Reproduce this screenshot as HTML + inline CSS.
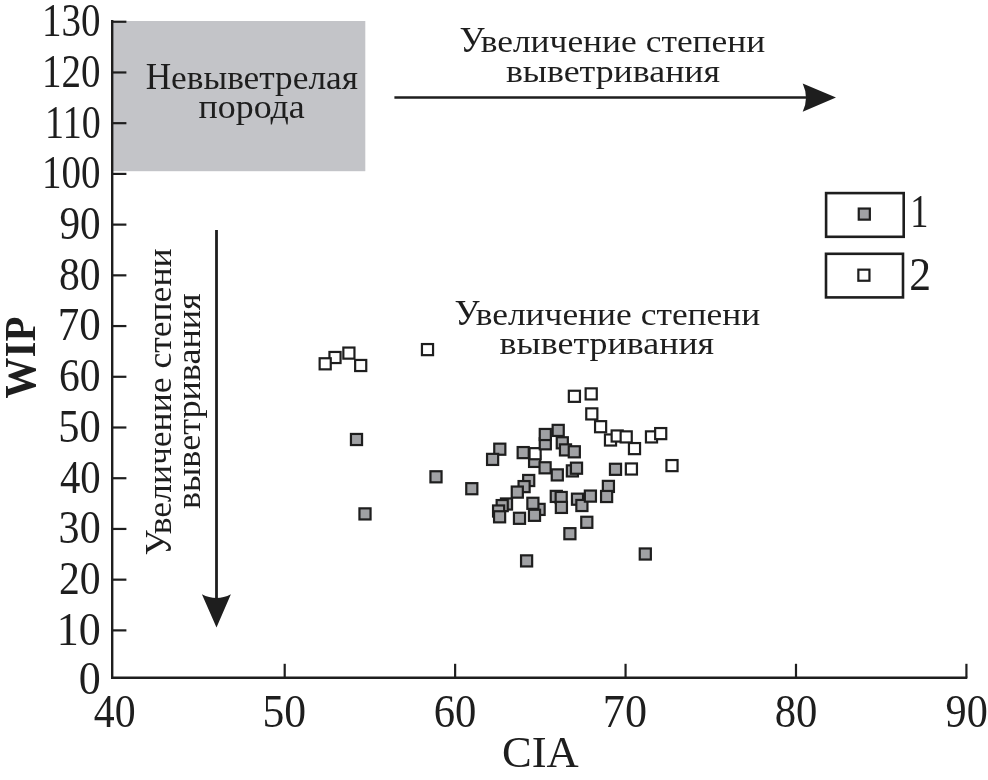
<!DOCTYPE html>
<html><head><meta charset="utf-8"><style>
html,body{margin:0;padding:0;background:#fff;width:988px;height:780px;overflow:hidden}
svg{display:block;will-change:transform}
text{font-family:"Liberation Serif",serif;fill:#1e1e1e}
</style></head><body>
<svg width="988" height="780" viewBox="0 0 988 780">
<rect x="113" y="21" width="252.3" height="150.2" fill="#c3c4c8"/>
<path d="M112.2,20 V677.8 H967.3" fill="none" stroke="#1e1e1e" stroke-width="2.4" stroke-linejoin="miter"/>
<line x1="112.2" y1="630.38" x2="126.4" y2="630.38" stroke="#1e1e1e" stroke-width="2.2"/>
<line x1="112.2" y1="579.66" x2="126.4" y2="579.66" stroke="#1e1e1e" stroke-width="2.2"/>
<line x1="112.2" y1="528.94" x2="126.4" y2="528.94" stroke="#1e1e1e" stroke-width="2.2"/>
<line x1="112.2" y1="478.22" x2="126.4" y2="478.22" stroke="#1e1e1e" stroke-width="2.2"/>
<line x1="112.2" y1="427.50" x2="126.4" y2="427.50" stroke="#1e1e1e" stroke-width="2.2"/>
<line x1="112.2" y1="376.78" x2="126.4" y2="376.78" stroke="#1e1e1e" stroke-width="2.2"/>
<line x1="112.2" y1="326.06" x2="126.4" y2="326.06" stroke="#1e1e1e" stroke-width="2.2"/>
<line x1="112.2" y1="275.34" x2="126.4" y2="275.34" stroke="#1e1e1e" stroke-width="2.2"/>
<line x1="112.2" y1="224.62" x2="126.4" y2="224.62" stroke="#1e1e1e" stroke-width="2.2"/>
<line x1="112.2" y1="173.90" x2="126.4" y2="173.90" stroke="#1e1e1e" stroke-width="2.2"/>
<line x1="112.2" y1="123.18" x2="126.4" y2="123.18" stroke="#1e1e1e" stroke-width="2.2"/>
<line x1="112.2" y1="72.46" x2="126.4" y2="72.46" stroke="#1e1e1e" stroke-width="2.2"/>
<line x1="112.2" y1="21.74" x2="126.4" y2="21.74" stroke="#1e1e1e" stroke-width="2.2"/>
<line x1="284.70" y1="677.8" x2="284.70" y2="663.8" stroke="#1e1e1e" stroke-width="2.2"/>
<line x1="455.13" y1="677.8" x2="455.13" y2="663.8" stroke="#1e1e1e" stroke-width="2.2"/>
<line x1="625.56" y1="677.8" x2="625.56" y2="663.8" stroke="#1e1e1e" stroke-width="2.2"/>
<line x1="795.99" y1="677.8" x2="795.99" y2="663.8" stroke="#1e1e1e" stroke-width="2.2"/>
<line x1="966.42" y1="677.8" x2="966.42" y2="663.8" stroke="#1e1e1e" stroke-width="2.2"/>
<text transform="translate(78.74,693.59) scale(0.9662,1)" font-size="45.59" font-weight="normal">0</text>
<text transform="translate(56.74,644.77) scale(0.9657,1)" font-size="45.59" font-weight="normal">10</text>
<text transform="translate(59.03,594.05) scale(0.9132,1)" font-size="45.59" font-weight="normal">20</text>
<text transform="translate(58.60,543.33) scale(0.9232,1)" font-size="45.59" font-weight="normal">30</text>
<text transform="translate(59.89,492.61) scale(0.8938,1)" font-size="45.59" font-weight="normal">40</text>
<text transform="translate(58.15,441.89) scale(0.9335,1)" font-size="45.59" font-weight="normal">50</text>
<text transform="translate(59.03,391.17) scale(0.9132,1)" font-size="45.59" font-weight="normal">60</text>
<text transform="translate(57.69,340.45) scale(0.9440,1)" font-size="45.59" font-weight="normal">70</text>
<text transform="translate(59.03,289.73) scale(0.9132,1)" font-size="45.59" font-weight="normal">80</text>
<text transform="translate(59.46,239.01) scale(0.9034,1)" font-size="45.59" font-weight="normal">90</text>
<text transform="translate(41.99,188.29) scale(0.8566,1)" font-size="45.59" font-weight="normal">100</text>
<text transform="translate(45.08,137.57) scale(0.8329,1)" font-size="45.59" font-weight="normal">110</text>
<text transform="translate(41.99,86.85) scale(0.8566,1)" font-size="45.59" font-weight="normal">120</text>
<text transform="translate(41.99,36.13) scale(0.8566,1)" font-size="45.59" font-weight="normal">130</text>
<text transform="translate(93.78,726.97) scale(0.8997,1)" font-size="46.47" font-weight="normal">40</text>
<text transform="translate(262.43,726.97) scale(0.9397,1)" font-size="46.47" font-weight="normal">50</text>
<text transform="translate(433.77,726.97) scale(0.9192,1)" font-size="46.47" font-weight="normal">60</text>
<text transform="translate(602.82,726.97) scale(0.9502,1)" font-size="46.47" font-weight="normal">70</text>
<text transform="translate(774.63,726.97) scale(0.9192,1)" font-size="46.47" font-weight="normal">80</text>
<text transform="translate(945.50,726.97) scale(0.9094,1)" font-size="46.47" font-weight="normal">90</text>
<text transform="translate(502.02,766.80) scale(0.9874,1)" font-size="45.15" font-weight="normal">CIA</text>
<g transform="translate(35.3,398.0) rotate(-90)"><text transform="translate(-0.41,0) scale(0.9109,1)" font-size="44.92" font-weight="bold">WIP</text></g>
<g transform="translate(145.64,89.00) scale(0.9515,1)"><text font-size="37.08">Н</text><text transform="translate(26.78,0) scale(1,0.89)" font-size="37.08">евыветрелая</text></g>
<text transform="translate(198.48,117.90) scale(0.9693,0.89)" font-size="37.08">порода</text>
<g transform="translate(459.54,51.90) scale(0.9682,1)"><text font-size="36.62">У</text><text transform="translate(21.79,0) scale(1,0.89)" font-size="36.62">величение степени</text></g>
<text transform="translate(505.88,81.80) scale(0.9796,0.89)" font-size="36.62">выветривания</text>
<g transform="translate(454.54,324.80) scale(0.9682,1)"><text font-size="36.62">У</text><text transform="translate(21.79,0) scale(1,0.89)" font-size="36.62">величение степени</text></g>
<text transform="translate(499.58,353.70) scale(0.9814,0.89)" font-size="36.62">выветривания</text>
<g transform="translate(171.0,554.4) rotate(-90)"><g transform="translate(-1.07,0.00) scale(0.9527,1)"><text font-size="37.38">У</text><text transform="translate(22.25,0) scale(1,0.89)" font-size="37.38">величение степени</text></g></g>
<g transform="translate(200.0,508.3) rotate(-90)"><text transform="translate(-0.72,0.00) scale(0.9671,0.89)" font-size="37.38">выветривания</text></g>
<line x1="394.4" y1="97.6" x2="806" y2="97.6" stroke="#1e1e1e" stroke-width="2.5"/>
<path d="M836,97.6 L802.7,83.4 Q809.2,97.6 802.7,111.8 Z" fill="#1e1e1e"/>
<line x1="216.5" y1="230.1" x2="216.5" y2="598" stroke="#1e1e1e" stroke-width="2.8"/>
<path d="M216.5,627.4 L201.9,594.2 Q216.5,601.8 230.9,594.2 Z" fill="#1e1e1e"/>
<rect x="826.1" y="193.1" width="77.6" height="43.7" fill="none" stroke="#1e1e1e" stroke-width="2.6"/>
<rect x="826.0" y="253.8" width="77.0" height="43.6" fill="none" stroke="#1e1e1e" stroke-width="2.6"/>
<rect x="858.75" y="208.55" width="11.1" height="11.1" fill="#a0a1a4" stroke="#1e1e1e" stroke-width="2.2"/>
<rect x="858.35" y="269.65" width="11.1" height="11.1" fill="#fff" stroke="#1e1e1e" stroke-width="2.2"/>
<text transform="translate(910.13,226.90) scale(0.7956,1)" font-size="45.61" font-weight="normal">1</text>
<text transform="translate(909.25,289.70) scale(0.9605,1)" font-size="45.45" font-weight="normal">2</text>
<rect x="329.45" y="351.95" width="11.1" height="11.1" fill="#fff" stroke="#1e1e1e" stroke-width="2.2"/>
<rect x="319.65" y="358.25" width="11.1" height="11.1" fill="#fff" stroke="#1e1e1e" stroke-width="2.2"/>
<rect x="343.35" y="347.55" width="11.1" height="11.1" fill="#fff" stroke="#1e1e1e" stroke-width="2.2"/>
<rect x="355.15" y="359.95" width="11.1" height="11.1" fill="#fff" stroke="#1e1e1e" stroke-width="2.2"/>
<rect x="421.95" y="344.05" width="11.1" height="11.1" fill="#fff" stroke="#1e1e1e" stroke-width="2.2"/>
<rect x="568.85" y="390.75" width="11.1" height="11.1" fill="#fff" stroke="#1e1e1e" stroke-width="2.2"/>
<rect x="585.65" y="388.35" width="11.1" height="11.1" fill="#fff" stroke="#1e1e1e" stroke-width="2.2"/>
<rect x="586.25" y="408.35" width="11.1" height="11.1" fill="#fff" stroke="#1e1e1e" stroke-width="2.2"/>
<rect x="595.05" y="421.15" width="11.1" height="11.1" fill="#fff" stroke="#1e1e1e" stroke-width="2.2"/>
<rect x="604.95" y="434.45" width="11.1" height="11.1" fill="#fff" stroke="#1e1e1e" stroke-width="2.2"/>
<rect x="611.65" y="430.45" width="11.1" height="11.1" fill="#fff" stroke="#1e1e1e" stroke-width="2.2"/>
<rect x="620.65" y="431.35" width="11.1" height="11.1" fill="#fff" stroke="#1e1e1e" stroke-width="2.2"/>
<rect x="628.95" y="443.05" width="11.1" height="11.1" fill="#fff" stroke="#1e1e1e" stroke-width="2.2"/>
<rect x="645.95" y="431.35" width="11.1" height="11.1" fill="#fff" stroke="#1e1e1e" stroke-width="2.2"/>
<rect x="655.15" y="428.05" width="11.1" height="11.1" fill="#fff" stroke="#1e1e1e" stroke-width="2.2"/>
<rect x="666.45" y="460.05" width="11.1" height="11.1" fill="#fff" stroke="#1e1e1e" stroke-width="2.2"/>
<rect x="625.85" y="463.45" width="11.1" height="11.1" fill="#fff" stroke="#1e1e1e" stroke-width="2.2"/>
<rect x="350.95" y="433.95" width="11.1" height="11.1" fill="#a0a1a4" stroke="#1e1e1e" stroke-width="2.2"/>
<rect x="430.45" y="471.25" width="11.1" height="11.1" fill="#a0a1a4" stroke="#1e1e1e" stroke-width="2.2"/>
<rect x="359.45" y="508.35" width="11.1" height="11.1" fill="#a0a1a4" stroke="#1e1e1e" stroke-width="2.2"/>
<rect x="466.25" y="483.15" width="11.1" height="11.1" fill="#a0a1a4" stroke="#1e1e1e" stroke-width="2.2"/>
<rect x="494.25" y="443.65" width="11.1" height="11.1" fill="#a0a1a4" stroke="#1e1e1e" stroke-width="2.2"/>
<rect x="487.05" y="453.85" width="11.1" height="11.1" fill="#a0a1a4" stroke="#1e1e1e" stroke-width="2.2"/>
<rect x="529.05" y="455.85" width="11.1" height="11.1" fill="#a0a1a4" stroke="#1e1e1e" stroke-width="2.2"/>
<rect x="529.55" y="448.15" width="11.1" height="11.1" fill="#fff" stroke="#1e1e1e" stroke-width="2.2"/>
<rect x="517.65" y="447.05" width="11.1" height="11.1" fill="#a0a1a4" stroke="#1e1e1e" stroke-width="2.2"/>
<rect x="539.55" y="462.25" width="11.1" height="11.1" fill="#a0a1a4" stroke="#1e1e1e" stroke-width="2.2"/>
<rect x="539.75" y="438.25" width="11.1" height="11.1" fill="#a0a1a4" stroke="#1e1e1e" stroke-width="2.2"/>
<rect x="539.75" y="428.95" width="11.1" height="11.1" fill="#a0a1a4" stroke="#1e1e1e" stroke-width="2.2"/>
<rect x="551.75" y="469.35" width="11.1" height="11.1" fill="#a0a1a4" stroke="#1e1e1e" stroke-width="2.2"/>
<rect x="552.65" y="424.85" width="11.1" height="11.1" fill="#a0a1a4" stroke="#1e1e1e" stroke-width="2.2"/>
<rect x="556.75" y="437.25" width="11.1" height="11.1" fill="#a0a1a4" stroke="#1e1e1e" stroke-width="2.2"/>
<rect x="559.95" y="444.35" width="11.1" height="11.1" fill="#a0a1a4" stroke="#1e1e1e" stroke-width="2.2"/>
<rect x="568.75" y="446.25" width="11.1" height="11.1" fill="#a0a1a4" stroke="#1e1e1e" stroke-width="2.2"/>
<rect x="566.85" y="465.35" width="11.1" height="11.1" fill="#a0a1a4" stroke="#1e1e1e" stroke-width="2.2"/>
<rect x="570.95" y="462.65" width="11.1" height="11.1" fill="#a0a1a4" stroke="#1e1e1e" stroke-width="2.2"/>
<rect x="609.95" y="463.75" width="11.1" height="11.1" fill="#a0a1a4" stroke="#1e1e1e" stroke-width="2.2"/>
<rect x="602.85" y="480.85" width="11.1" height="11.1" fill="#a0a1a4" stroke="#1e1e1e" stroke-width="2.2"/>
<rect x="601.05" y="490.95" width="11.1" height="11.1" fill="#a0a1a4" stroke="#1e1e1e" stroke-width="2.2"/>
<rect x="571.95" y="493.65" width="11.1" height="11.1" fill="#a0a1a4" stroke="#1e1e1e" stroke-width="2.2"/>
<rect x="576.35" y="499.95" width="11.1" height="11.1" fill="#a0a1a4" stroke="#1e1e1e" stroke-width="2.2"/>
<rect x="584.85" y="490.55" width="11.1" height="11.1" fill="#a0a1a4" stroke="#1e1e1e" stroke-width="2.2"/>
<rect x="550.75" y="490.85" width="11.1" height="11.1" fill="#a0a1a4" stroke="#1e1e1e" stroke-width="2.2"/>
<rect x="555.65" y="491.95" width="11.1" height="11.1" fill="#a0a1a4" stroke="#1e1e1e" stroke-width="2.2"/>
<rect x="555.85" y="501.85" width="11.1" height="11.1" fill="#a0a1a4" stroke="#1e1e1e" stroke-width="2.2"/>
<rect x="523.15" y="474.95" width="11.1" height="11.1" fill="#a0a1a4" stroke="#1e1e1e" stroke-width="2.2"/>
<rect x="518.55" y="481.05" width="11.1" height="11.1" fill="#a0a1a4" stroke="#1e1e1e" stroke-width="2.2"/>
<rect x="511.75" y="486.55" width="11.1" height="11.1" fill="#a0a1a4" stroke="#1e1e1e" stroke-width="2.2"/>
<rect x="500.95" y="498.45" width="11.1" height="11.1" fill="#a0a1a4" stroke="#1e1e1e" stroke-width="2.2"/>
<rect x="496.65" y="500.05" width="11.1" height="11.1" fill="#a0a1a4" stroke="#1e1e1e" stroke-width="2.2"/>
<rect x="493.05" y="505.45" width="11.1" height="11.1" fill="#a0a1a4" stroke="#1e1e1e" stroke-width="2.2"/>
<rect x="494.05" y="511.25" width="11.1" height="11.1" fill="#a0a1a4" stroke="#1e1e1e" stroke-width="2.2"/>
<rect x="513.95" y="512.75" width="11.1" height="11.1" fill="#a0a1a4" stroke="#1e1e1e" stroke-width="2.2"/>
<rect x="533.55" y="503.85" width="11.1" height="11.1" fill="#a0a1a4" stroke="#1e1e1e" stroke-width="2.2"/>
<rect x="527.35" y="497.75" width="11.1" height="11.1" fill="#a0a1a4" stroke="#1e1e1e" stroke-width="2.2"/>
<rect x="528.95" y="509.75" width="11.1" height="11.1" fill="#a0a1a4" stroke="#1e1e1e" stroke-width="2.2"/>
<rect x="581.25" y="516.75" width="11.1" height="11.1" fill="#a0a1a4" stroke="#1e1e1e" stroke-width="2.2"/>
<rect x="564.35" y="528.15" width="11.1" height="11.1" fill="#a0a1a4" stroke="#1e1e1e" stroke-width="2.2"/>
<rect x="521.05" y="555.35" width="11.1" height="11.1" fill="#a0a1a4" stroke="#1e1e1e" stroke-width="2.2"/>
<rect x="639.75" y="548.45" width="11.1" height="11.1" fill="#a0a1a4" stroke="#1e1e1e" stroke-width="2.2"/>
</svg>
</body></html>
